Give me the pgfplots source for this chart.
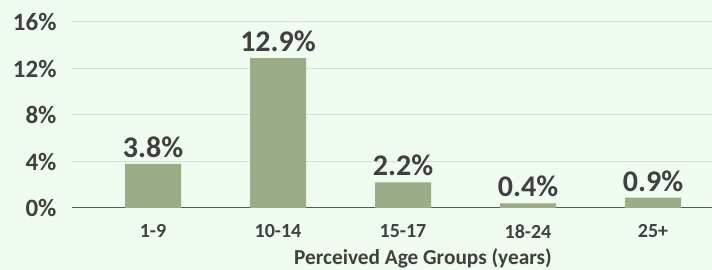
\documentclass[border=0pt]{standalone}
\usepackage{pgfplots}
\pgfplotsset{compat=1.18}
\usepackage{fontspec}
\setmainfont{Carlito}
\definecolor{bgc}{HTML}{F1FCF0}
\definecolor{barc}{HTML}{9CAC88}
\definecolor{txt}{HTML}{404040}
\definecolor{gridc}{HTML}{D9DED6}
\definecolor{axc}{HTML}{595959}
\begin{document}
\begin{tikzpicture}
\fill[bgc] (0,0) rectangle (712pt,270pt);
\begin{axis}[
  at={(72pt,62pt)}, anchor=south west,
  width=640pt, height=186pt, scale only axis,
  xmin=-0.648, xmax=4.472, ymin=0, ymax=16,
  xtick={0,1,2,3,4},
  xticklabels={1-9,10-14,15-17,18-24,25+},
  ytick={0,4,8,12,16},
  yticklabels={0\%,4\%,8\%,12\%,16\%},
  axis x line*=bottom, axis y line*=left,
  axis line style={-},
  x axis line style={draw=axc, line width=1pt},
  y axis line style={draw=none},
  major tick length=0pt,
  ymajorgrids, grid style={gridc, line width=1pt},
  xticklabel style={font=\fontsize{20}{24}\selectfont\bfseries, text=txt, yshift=-13pt},
  yticklabel style={font=\fontsize{25}{30}\selectfont\bfseries, text=txt, xshift=-12pt},
  xlabel={Perceived Age Groups (years)},
  xlabel style={font=\fontsize{21.3}{25}\selectfont\bfseries, text=txt, xshift=31pt, yshift=-3.5pt},
  ybar, bar width=56pt,
  nodes near coords={\pgfmathprintnumber[fixed,precision=1,fixed zerofill]{\pgfplotspointmeta}\%},
  nodes near coords style={font=\fontsize{30}{36}\selectfont\bfseries, text=txt, inner sep=0pt, anchor=south, yshift=6pt, /pgf/number format/assume math mode=true},
  clip=false,
]
\addplot[fill=barc, draw=none] coordinates {(0,3.8) (1,12.9) (2,2.2) (3,0.4) (4,0.9)};
\end{axis}
\pgfresetboundingbox
\useasboundingbox (0,0) rectangle (712pt,270pt);
\end{tikzpicture}
\end{document}
